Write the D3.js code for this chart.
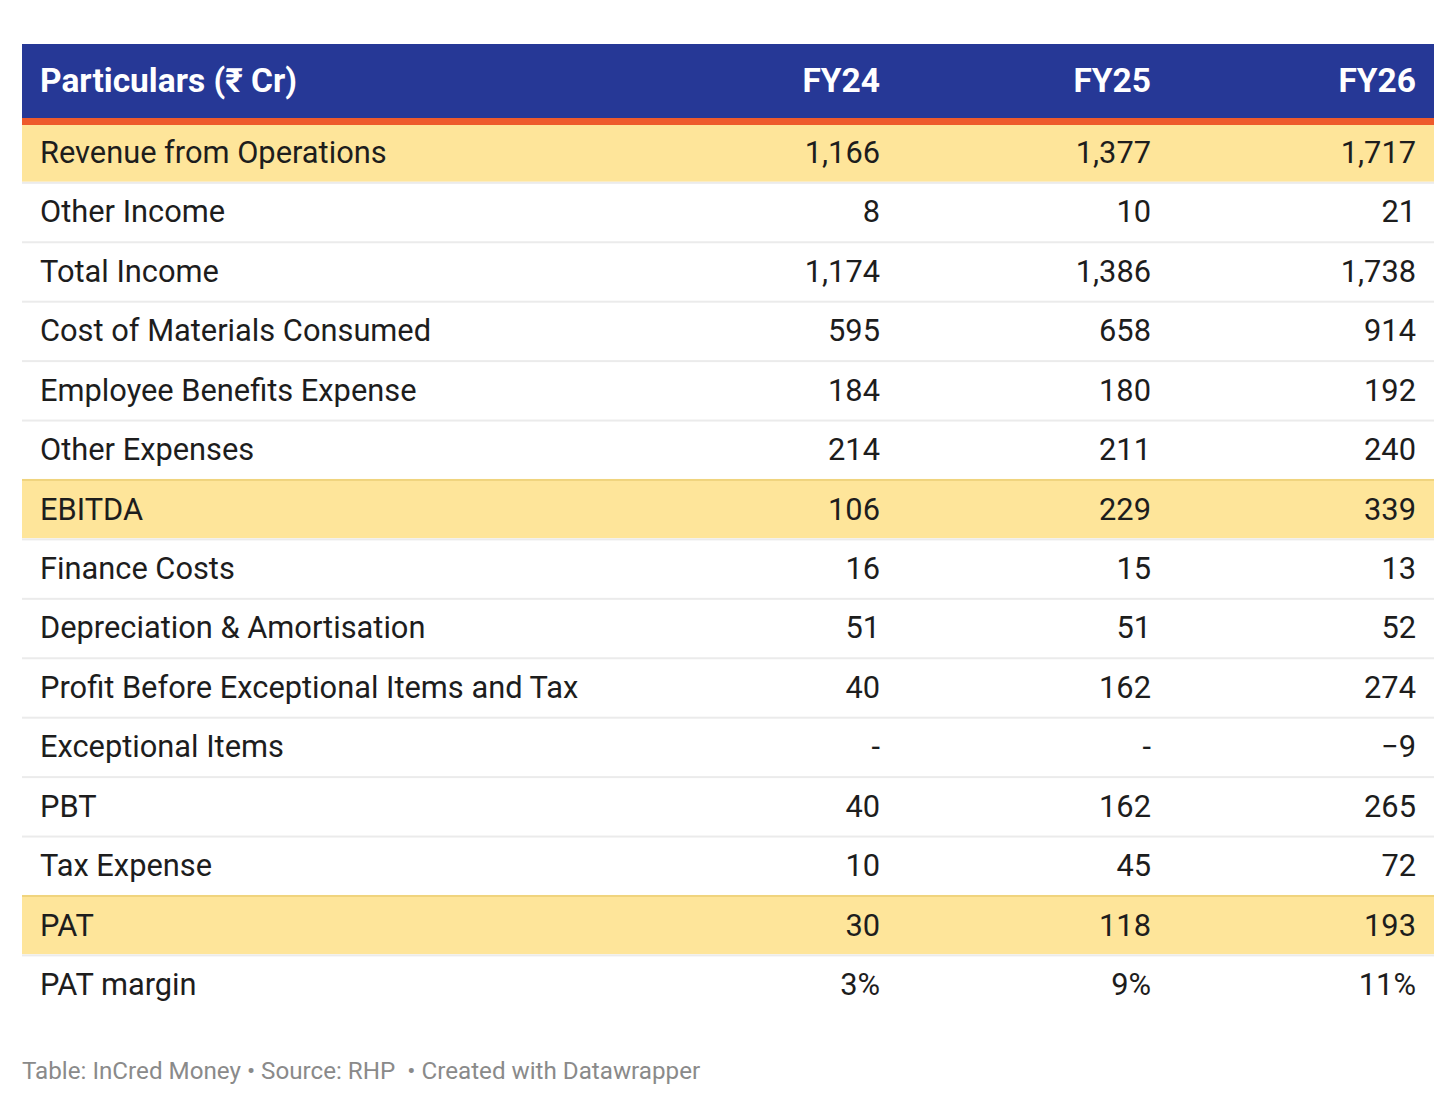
<!DOCTYPE html>
<html>
<head>
  <meta charset="utf-8">
  <title>Financials table</title>
  <script src="https://cdn.jsdelivr.net/npm/d3@7"></script>
  <style>
    body { margin: 0; background: #fff; }
    svg { display: block; font-family: Roboto, "Noto Sans", sans-serif; }
  </style>
</head>
<body>
<script>
  // data
  var columns = ["FY24", "FY25", "FY26"]
  var particulars = [
    "Revenue from Operations", "Other Income", "Total Income",
    "Cost of Materials Consumed", "Employee Benefits Expense", "Other Expenses",
    "EBITDA", "Finance Costs", "Depreciation & Amortisation",
    "Profit Before Exceptional Items and Tax", "Exceptional Items", "PBT",
    "Tax Expense", "PAT", "PAT margin"
  ]
  var fy24 = ["1,166", "8", "1,174", "595", "184", "214", "106", "16", "51", "40", "-", "40", "10", "30", "3%"]
  var fy25 = ["1,377", "10", "1,386", "658", "180", "211", "229", "15", "51", "162", "-", "162", "45", "118", "9%"]
  var fy26 = ["1,717", "21", "1,738", "914", "192", "240", "339", "13", "52", "274", "\u22129", "265", "72", "193", "11%"]
  var highlighted = ["Revenue from Operations", "EBITDA", "PAT"]
  var footer = "Table: InCred Money \u2022 Source: RHP  \u2022 Created with Datawrapper"

  var rows = particulars.map(function(p, i) {
    return { name: p, values: [fy24[i], fy25[i], fy26[i]] }
  })

  var W = 1456, H = 1108
  var left = 22, right = 1434
  var headTop = 44, headBottom = 118, orangeBottom = 125
  var rowTop = 122.4, rowStep = 59.43
  var bodySize = 30.8, headSize = 33.5

  var svg = d3.select("body").append("svg")
    .attr("width", W).attr("height", H)

  // scales
  var y = d3.scaleBand()
    .domain(particulars)
    .range([rowTop, rowTop + rowStep * particulars.length])

  var colX = d3.scaleOrdinal()
    .domain(columns)
    .range([880, 1151, 1416])

  // rows (drawn first, header covers the top of row 1)
  var row = svg.selectAll(".row").data(rows).enter().append("g")
    .attr("class", "row")
    .attr("transform", function(d) { return "translate(0," + y(d.name) + ")" })

  row.append("rect")
    .attr("x", left).attr("y", 0)
    .attr("width", right - left).attr("height", y.bandwidth())
    .attr("fill", function(d) { return highlighted.indexOf(d.name) >= 0 ? "#fee59a" : "#fff" })

  // separator at the top of each row
  row.filter(function(d, i) { return i > 0 })
    .append("rect")
    .attr("x", left).attr("y", 0)
    .attr("width", right - left).attr("height", 2)
    .attr("fill", function(d) { return highlighted.indexOf(d.name) >= 0 ? "#f0d47e" : "#ebebeb" })

  row.append("text")
    .attr("x", 40).attr("y", y.bandwidth() / 2)
    .attr("dy", "0.355em")
    .attr("fill", "#1d1d1d").attr("font-size", bodySize)
    .text(function(d) { return d.name })

  row.selectAll(".val").data(function(d) { return d.values }).enter().append("text")
    .attr("class", "val")
    .attr("x", function(d, i) { return colX(columns[i]) })
    .attr("y", y.bandwidth() / 2)
    .attr("dy", "0.355em")
    .attr("text-anchor", "end")
    .attr("fill", "#1d1d1d").attr("font-size", bodySize)
    .text(function(d) { return d })

  // header
  svg.append("rect")
    .attr("x", left).attr("y", headTop)
    .attr("width", right - left).attr("height", headBottom - headTop)
    .attr("fill", "#263896")
  svg.append("rect")
    .attr("x", left).attr("y", headBottom)
    .attr("width", right - left).attr("height", orangeBottom - headBottom)
    .attr("fill", "#ee5a2b")

  svg.append("text")
    .attr("x", 40).attr("y", (headTop + headBottom) / 2)
    .attr("dy", "0.34em")
    .attr("fill", "#fff").attr("font-weight", 700).attr("font-size", headSize)
    .text("Particulars (\u20b9 Cr)")

  svg.selectAll(".colhead").data(columns).enter().append("text")
    .attr("class", "colhead")
    .attr("x", function(d) { return colX(d) })
    .attr("y", (headTop + headBottom) / 2)
    .attr("dy", "0.34em")
    .attr("text-anchor", "end")
    .attr("fill", "#fff").attr("font-weight", 700).attr("font-size", headSize)
    .text(function(d) { return d })

  // footer
  svg.append("text")
    .attr("x", left).attr("y", 1079)
    .attr("fill", "#8a8a8a").attr("font-size", 24.2)
    .attr("xml:space", "preserve")
    .style("white-space", "pre")
    .text(footer)
</script>
</body>
</html>
